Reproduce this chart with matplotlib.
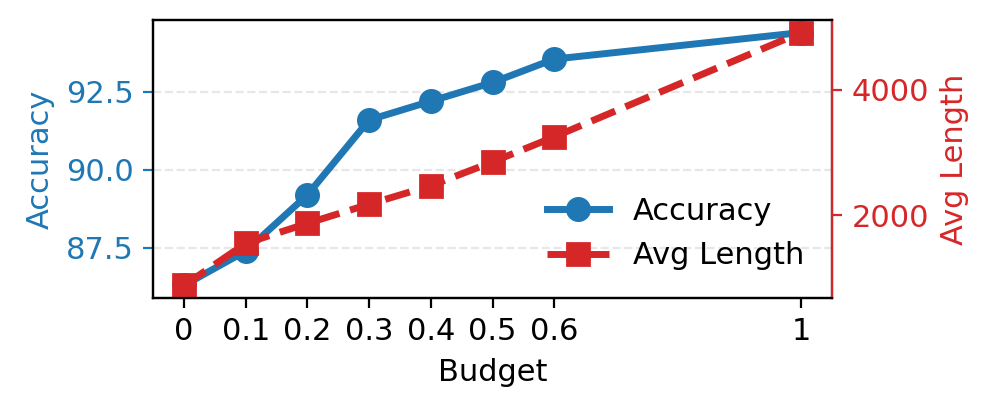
import matplotlib
matplotlib.use("Agg")
import matplotlib.pyplot as plt
from matplotlib.ticker import MultipleLocator

budget = [0, 0.1, 0.2, 0.3, 0.4, 0.5, 0.6, 1.0]
budget_labels = ["0", "0.1", "0.2", "0.3", "0.4", "0.5", "0.6", "1"]
accuracy = [86.3, 87.4, 89.2, 91.6, 92.2, 92.8, 93.55, 94.4]
avg_length = [880, 1550, 1870, 2175, 2470, 2850, 3250, 4915]

plt.rcParams["font.size"] = 11

fig, ax1 = plt.subplots(figsize=(4.975, 2.075), dpi=200)
fig.subplots_adjust(left=0.154, right=0.836, top=0.952, bottom=0.282)

ax1.plot(budget, accuracy, color="tab:blue", marker="o", markersize=8,
         linewidth=2.5, label="Accuracy")
ax1.set_xlabel("Budget")
ax1.set_ylabel("Accuracy", color="tab:blue")
ax1.tick_params(axis="y", colors="tab:blue")
ax1.yaxis.set_major_locator(MultipleLocator(2.5))
ax1.set_xticks(budget)
ax1.set_xticklabels(budget_labels)
ax1.grid(axis="y", linestyle="--", alpha=0.3)

ax2 = ax1.twinx()
ax2.plot(budget, avg_length, color="tab:red", marker="s", markersize=8,
         linewidth=2.5, linestyle="--", label="Avg Length")
ax2.set_ylabel("Avg Length", color="tab:red")
ax2.tick_params(axis="y", colors="tab:red")
ax2.yaxis.set_major_locator(MultipleLocator(2000))
ax2.spines["right"].set_color("tab:red")

h1, l1 = ax1.get_legend_handles_labels()
h2, l2 = ax2.get_legend_handles_labels()
ax2.legend(h1 + h2, l1 + l2, loc="lower right", frameon=False)

fig.savefig("out.png", dpi=200)
